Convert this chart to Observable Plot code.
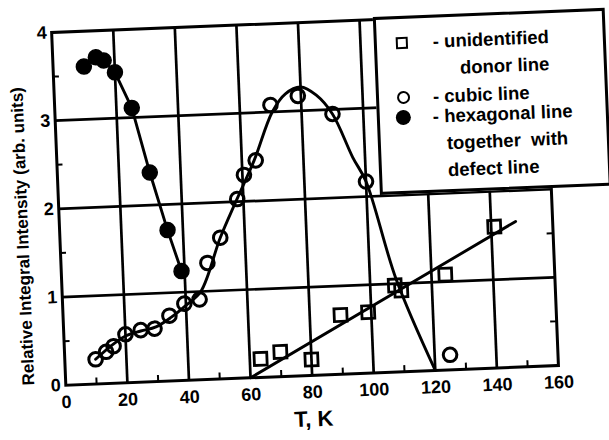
<!DOCTYPE html>
<html>
<head>
<meta charset="utf-8">
<script src="https://cdn.jsdelivr.net/npm/d3@7"></script>
<script src="https://cdn.jsdelivr.net/npm/@observablehq/plot@0.6"></script>
<style>
  html, body { margin: 0; padding: 0; background: #fff; overflow: hidden; }
  #wrap { position: relative; width: 609px; height: 440px; transform: rotate(-2.3deg); transform-origin: 304.5px 198px; font-family: "Liberation Sans", Arial, sans-serif; font-weight: bold; }
  #wrap svg { overflow: visible; }
  .box { position: absolute; left: 380px; top: 20px; width: 232px; height: 178px; box-sizing: border-box; border: 3px solid #000; background: #fff; }
  .lt { position: absolute; font-size: 18.5px; line-height: 20px; white-space: pre; color: #000; }
  .sym { position: absolute; box-sizing: border-box; }
</style>
</head>
<body>
<div id="wrap"></div>
<script>
// Hexagonal line together with defect line (filled circles)
const hexT = [10, 14, 16.5, 20, 25, 30, 35, 39];
const hexV = [3.6, 3.7, 3.66, 3.52, 3.11, 2.37, 1.71, 1.24];

// Cubic line (open circles)
const cubicT = [10, 13.5, 16, 20, 25, 29.5, 34.5, 39.5, 44.5, 47.5, 52, 58, 60.5, 64.5, 70, 79, 90, 100, 125];
const cubicV = [0.28, 0.36, 0.42, 0.55, 0.59, 0.6, 0.74, 0.87, 0.91, 1.32, 1.6, 2.03, 2.3, 2.46, 3.08, 3.17, 2.95, 2.17, 0.17];

// Hand-drawn curve through the cubic line points
const cubicFitT = [10, 15, 20, 25, 30, 35, 40, 45, 52, 57.5, 64, 70.5, 75, 80, 85, 90, 96, 100, 108.5, 120];
const cubicFitV = [0.28, 0.42, 0.53, 0.58, 0.62, 0.72, 0.85, 1.0, 1.6, 2.0, 2.46, 3.0, 3.2, 3.27, 3.17, 2.95, 2.45, 2.17, 1.05, 0];

// Unidentified donor line (open squares)
const donorT = [63.5, 70, 80, 90, 99, 108, 110, 124.5, 141];
const donorV = [0.21, 0.28, 0.18, 0.67, 0.69, 0.98, 0.92, 1.08, 1.6];
const donorFitT = [60, 148];
const donorFitV = [0, 1.65];

// Axes
const xTicks = [0, 20, 40, 60, 80, 100, 120, 140, 160];
const yTicks = [0, 1, 2, 3, 4];
const xGrid = [20, 40, 60, 80, 100, 120, 140];
const yGrid = [1, 2, 3];
const xMinor = [10, 30, 50, 70, 90, 110, 130, 150];
const yMinor = [0.5, 1.5, 2.5, 3.5];
const xLabel = "T, K";
const yLabel = "Relative Integral Intensity (arb. units)";

const legendItems = [
  {sym: "square", lines: ["- unidentified", "donor line"]},
  {sym: "circle", lines: ["- cubic line"]},
  {sym: "filled", lines: ["- hexagonal line", "together  with", "defect line"]}
];

const zip = (T, V) => T.map((t, i) => ({t, v: V[i]}));
const hex = zip(hexT, hexV);
const cubic = zip(cubicT, cubicV);
const cubicFit = zip(cubicFitT, cubicFitV);
const donor = zip(donorT, donorV);
const donorFit = zip(donorFitT, donorFitV);

const W = 609, H = 440, mL = 58, mR = 58, mT = 22, mB = 65;
const fw = W - mL - mR, fh = H - mT - mB;
const lw = 2.9;

const chart = Plot.plot({
  width: W, height: H,
  marginLeft: mL, marginRight: mR, marginTop: mT, marginBottom: mB,
  style: {fontFamily: "'Liberation Sans', Arial, sans-serif", fontWeight: "bold", fontSize: "18px", color: "#000", background: "transparent"},
  x: {domain: [0, 160]},
  y: {domain: [0, 4]},
  marks: [
    Plot.gridX(xGrid, {stroke: "#000", strokeOpacity: 1, strokeWidth: 2.7}),
    Plot.gridY(yGrid, {stroke: "#000", strokeOpacity: 1, strokeWidth: 2.7}),
    Plot.tickX(xMinor, {x: d => d, insetTop: fh - 6, strokeWidth: 2}),
    Plot.tickY(yMinor, {y: d => d, insetRight: fw - 6, strokeWidth: 2}),
    Plot.tickY(yMinor, {y: d => d, insetLeft: fw - 6, strokeWidth: 2}),
    Plot.frame({stroke: "#000", strokeWidth: 3}),
    Plot.axisX({ticks: xTicks, tickSize: 0, tickPadding: 10, label: null, fontSize: 18, tickFormat: d => String(d)}),
    Plot.axisY({ticks: yTicks, tickSize: 0, tickPadding: 5, label: null, fontSize: 18, tickFormat: d => String(d)}),
    Plot.text([yLabel], {frameAnchor: "left", textAnchor: "middle", rotate: -90, dx: -37, dy: 26, fontSize: 17, fontWeight: "bold"}),
    Plot.text([xLabel], {frameAnchor: "bottom", textAnchor: "middle", dy: 51, fontSize: 22, fontWeight: "bold"}),
    Plot.line(hex.slice(2), {x: "t", y: "v", stroke: "#000", strokeWidth: lw}),
    Plot.line(cubicFit, {x: "t", y: "v", stroke: "#000", strokeWidth: lw, curve: "catmull-rom"}),
    Plot.line(donorFit, {x: "t", y: "v", stroke: "#000", strokeWidth: lw}),
    Plot.dot(donor, {x: "t", y: "v", symbol: "square", r: 7.2, fill: "none", stroke: "#000", strokeWidth: 2.8}),
    Plot.dot(cubic, {x: "t", y: "v", symbol: "circle", r: 6.8, fill: "none", stroke: "#000", strokeWidth: 3}),
    Plot.dot(hex, {x: "t", y: "v", symbol: "circle", r: 7.5, fill: "#000", stroke: "#000"})
  ]
});

const wrap = document.getElementById("wrap");
wrap.appendChild(chart);

// Legend (HTML overlay inside the rotated wrapper)
const box = document.createElement("div");
box.className = "box";
wrap.appendChild(box);
const symPos = [[408, 47], [407, 101], [406, 121]];
const textPos = [[[439, 47], [465, 74]], [[437, 102]], [[436, 122], [449, 149], [449, 176]]];
legendItems.forEach((it, i) => {
  const s = document.createElement("div");
  s.className = "sym";
  const [sx, sy] = symPos[i];
  let d = it.sym === "square" ? 12 : it.sym === "circle" ? 13 : 15;
  s.style.left = (sx - d / 2) + "px";
  s.style.top = (sy - d / 2) + "px";
  s.style.width = d + "px";
  s.style.height = d + "px";
  if (it.sym === "square") { s.style.border = "2.8px solid #000"; }
  else if (it.sym === "circle") { s.style.border = "2.8px solid #000"; s.style.borderRadius = "50%"; }
  else { s.style.background = "#000"; s.style.borderRadius = "50%"; }
  wrap.appendChild(s);
  it.lines.forEach((ln, j) => {
    const t = document.createElement("div");
    t.className = "lt";
    t.textContent = ln;
    const [tx, ty] = textPos[i][j];
    t.style.left = tx + "px";
    t.style.top = (ty - 10) + "px";
    wrap.appendChild(t);
  });
});
</script>
</body>
</html>
